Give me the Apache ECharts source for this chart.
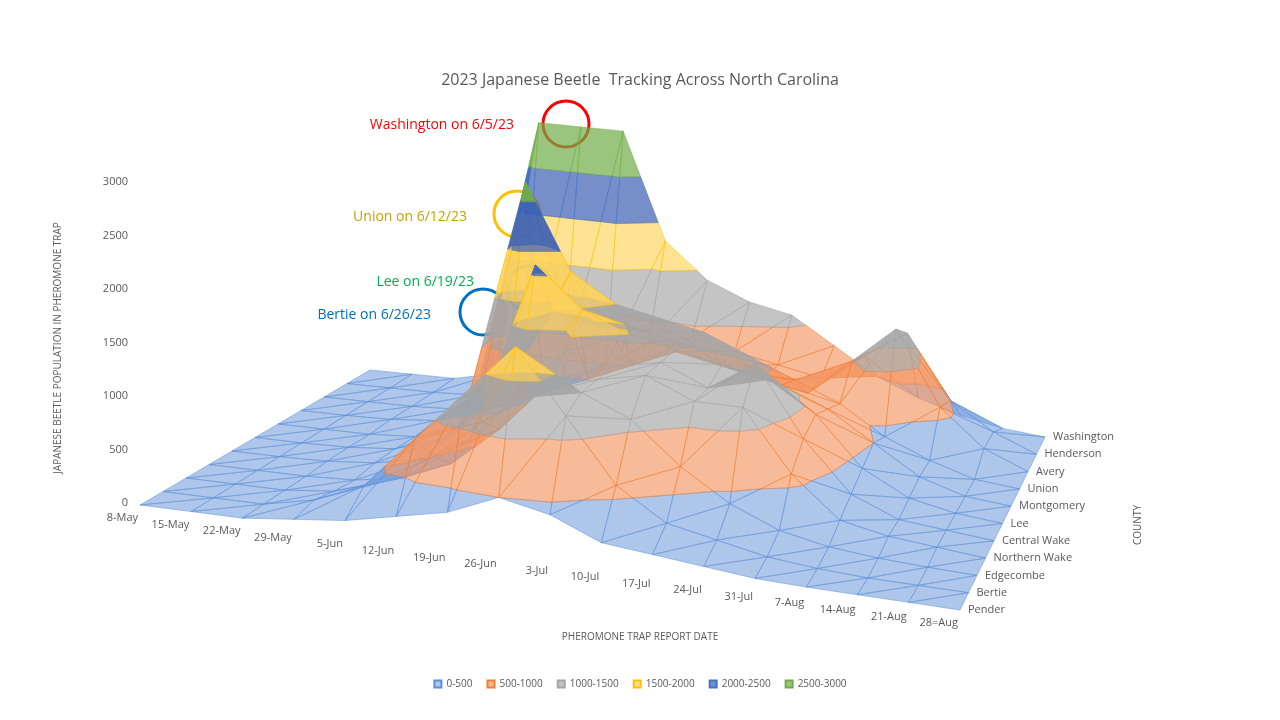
<!DOCTYPE html>
<html><head><meta charset="utf-8">
<script src="https://cdn.jsdelivr.net/npm/echarts@6/dist/echarts.min.js"></script>
<style>html,body{margin:0;background:#fff}#c{width:1280px;height:720px}</style>
</head><body><div id="c"></div>
<script>
var dates = ['8-May','15-May','22-May','29-May','5-Jun','12-Jun','19-Jun','26-Jun','3-Jul','10-Jul','17-Jul','24-Jul','31-Jul','7-Aug','14-Aug','21-Aug','28=Aug'];
var counties = ['Pender','Bertie','Edgecombe','Northern Wake','Central Wake','Lee','Montgomery','Union','Avery','Henderson','Washington'];
var pender       = [0,0,0,50,100,200,300,500,400,200,150,100,50,30,20,10,0];
var bertie       = [0,0,0,100,300,800,1300,1800,1200,600,300,200,100,50,20,10,0];
var edgecombe    = [0,0,0,50,200,500,900,1200,1300,1100,700,400,200,100,50,20,0];
var northernWake = [0,0,0,20,100,300,700,1200,1300,1400,1200,1200,600,200,100,50,0];
var centralWake  = [0,0,10,50,150,400,900,1400,1300,1400,1200,1500,800,300,100,50,0];
var lee          = [0,0,10,50,200,600,2100,1700,1500,1400,1300,1200,900,400,150,50,0];
var montgomery   = [0,0,0,30,200,700,1500,1400,1400,1300,1100,1000,800,500,200,50,0];
var union        = [0,0,10,50,400,2700,1800,1500,1400,1300,1100,900,700,400,200,50,0];
var avery        = [0,0,0,20,100,300,500,700,900,800,700,600,1000,1400,600,200,0];
var henderson    = [0,0,0,20,100,300,500,800,900,800,700,600,900,1200,500,200,0];
var washington   = [0,0,0,100,3400,3300,3200,1800,1400,1200,1100,800,500,300,150,50,0];
var rows = [pender,bertie,edgecombe,northernWake,centralWake,lee,montgomery,union,avery,henderson,washington];
var zTicks = [0,500,1000,1500,2000,2500,3000];
var bandNames = ['0-500','500-1000','1000-1500','1500-2000','2000-2500','2500-3000'];
var bandFill = ['rgba(120,160,220,0.6)','rgba(244,150,100,0.65)','rgba(165,165,165,0.65)','rgba(255,210,90,0.65)','rgba(60,95,180,0.7)','rgba(112,173,71,0.7)'];
var bandLine = ['#5b8fd6','#ed7d31','#a5a5a5','#ffc000','#4472c4','#70ad47'];

var FL=[140,505], FR=[960,610], BR=[1045,437], BL=[370,370];
var ND=dates.length-1, NC=counties.length-1;
function proj(i,j,z){
  var d=i/ND, c=j/NC;
  var x=(1-d)*(1-c)*FL[0]+d*(1-c)*FR[0]+d*c*BR[0]+(1-d)*c*BL[0];
  var y=(1-d)*(1-c)*FL[1]+d*(1-c)*FR[1]+d*c*BR[1]+(1-d)*c*BL[1];
  var k=0.088+(1-c)*0.019;
  return [x, y-Math.min(z,3000)*k];
}
function clip(poly, lv, keepAbove){
  var out=[];
  for(var a=0;a<poly.length;a++){
    var p=poly[a], q=poly[(a+1)%poly.length];
    var pin=keepAbove?p[2]>=lv:p[2]<=lv, qin=keepAbove?q[2]>=lv:q[2]<=lv;
    if(pin) out.push(p);
    if(pin!==qin){
      var t=(lv-p[2])/(q[2]-p[2]);
      out.push([p[0]+t*(q[0]-p[0]),p[1]+t*(q[1]-p[1]),lv]);
    }
  }
  return out;
}
var polys=[];
for(var j=NC-1;j>=0;j--){
  for(var i=0;i<ND;i++){
    var v=function(a,b){return [a,b,Math.min(rows[b][a],3000)];};
    var tris=[[v(i,j),v(i+1,j),v(i+1,j+1)],[v(i,j),v(i+1,j+1),v(i,j+1)]];
    tris.forEach(function(t){
      for(var b=0;b<6;b++){
        var p=clip(clip(t,b*500,true),(b+1)*500,false);
        if(p.length>=3) polys.push({band:b,pts:p.map(function(q){return proj(q[0],q[1],q[2]);})});
      }
    });
  }
}
var labels=[];
dates.forEach(function(d,i){var p=proj(i,0,0);labels.push({t:d,x:p[0]-2,y:p[1]+13,align:'right'});});
counties.forEach(function(c,j){var p=proj(ND,j,0);labels.push({t:c,x:p[0]+8,y:p[1],align:'left'});});
zTicks.forEach(function(z){var p=proj(0,0,z);labels.push({t:String(z),x:p[0]-12,y:p[1]-2,align:'right'});});

var chart=echarts.init(document.getElementById('c'));
var series=[{
  type:'custom',coordinateSystem:'cartesian2d',silent:true,
  data:polys.map(function(p,k){return k;}),
  renderItem:function(params,api){
    var p=polys[params.dataIndex];
    return {type:'polygon',shape:{points:p.pts.map(function(q){return api.coord(q);})},
      style:{fill:bandFill[p.band],stroke:bandLine[p.band],lineWidth:0.5,opacity:1}};
  }
},{
  type:'custom',coordinateSystem:'cartesian2d',silent:true,
  data:labels.map(function(l,k){return k;}),
  renderItem:function(params,api){
    var l=labels[params.dataIndex], c=api.coord([l.x,l.y]);
    return {type:'text',x:c[0],y:c[1],
      style:{text:l.t,fill:'#595959',font:'11px "Open Sans"',align:l.align,verticalAlign:'middle'}};
  }
}];
bandNames.forEach(function(n,b){series.push({type:'line',name:n,data:[],itemStyle:{color:bandFill[b],borderColor:bandLine[b],borderWidth:1}});});
chart.setOption({
  animation:false,
  title:{text:'2023 Japanese Beetle  Tracking Across North Carolina',left:'center',top:67,
    textStyle:{fontFamily:'Open Sans',fontWeight:'normal',fontSize:16,color:'#595959'}},
  grid:{left:0,right:0,top:0,bottom:0},
  xAxis:{type:'value',min:0,max:1280,show:false},
  yAxis:{type:'value',min:0,max:720,inverse:true,show:false},
  legend:{bottom:26,icon:'rect',itemWidth:7,itemHeight:7,itemGap:14,
    textStyle:{fontFamily:'Open Sans',fontSize:10,color:'#595959'},data:bandNames},
  series:series,
  graphic:[
    {type:'text',x:640,y:637,style:{text:'PHEROMONE TRAP REPORT DATE',fill:'#595959',font:'10px "Open Sans"',align:'center',verticalAlign:'middle'}},
    {type:'text',x:58,y:348,rotation:Math.PI/2,style:{text:'JAPANESE BEETLE POPULATION IN PHEROMONE TRAP',fill:'#595959',font:'10px "Open Sans"',align:'center',verticalAlign:'middle'}},
    {type:'text',x:1138,y:525,rotation:Math.PI/2,style:{text:'COUNTY',fill:'#595959',font:'10px "Open Sans"',align:'center',verticalAlign:'middle'}},
    {type:'circle',shape:{cx:566,cy:124,r:23},style:{fill:'none',stroke:'#ff0000',lineWidth:3}},
    {type:'text',x:514,y:125,style:{text:'Washington on 6/5/23',fill:'#ff0000',font:'14px "Open Sans"',align:'right',verticalAlign:'middle'}},
    {type:'circle',shape:{cx:517,cy:214,r:23},style:{fill:'none',stroke:'#ffc000',lineWidth:3}},
    {type:'text',x:467,y:217,style:{text:'Union on 6/12/23',fill:'#c9a000',font:'14px "Open Sans"',align:'right',verticalAlign:'middle'}},
    {type:'circle',shape:{cx:530,cy:289,r:23},style:{fill:'none',stroke:'#00b050',lineWidth:3}},
    {type:'text',x:474,y:282,style:{text:'Lee on 6/19/23',fill:'#00b050',font:'14px "Open Sans"',align:'right',verticalAlign:'middle'}},
    {type:'circle',shape:{cx:483,cy:312,r:23},style:{fill:'none',stroke:'#0070c0',lineWidth:3}},
    {type:'text',x:431,y:315,style:{text:'Bertie on 6/26/23',fill:'#0070c0',font:'14px "Open Sans"',align:'right',verticalAlign:'middle'}}
  ]
});
</script></body></html>
